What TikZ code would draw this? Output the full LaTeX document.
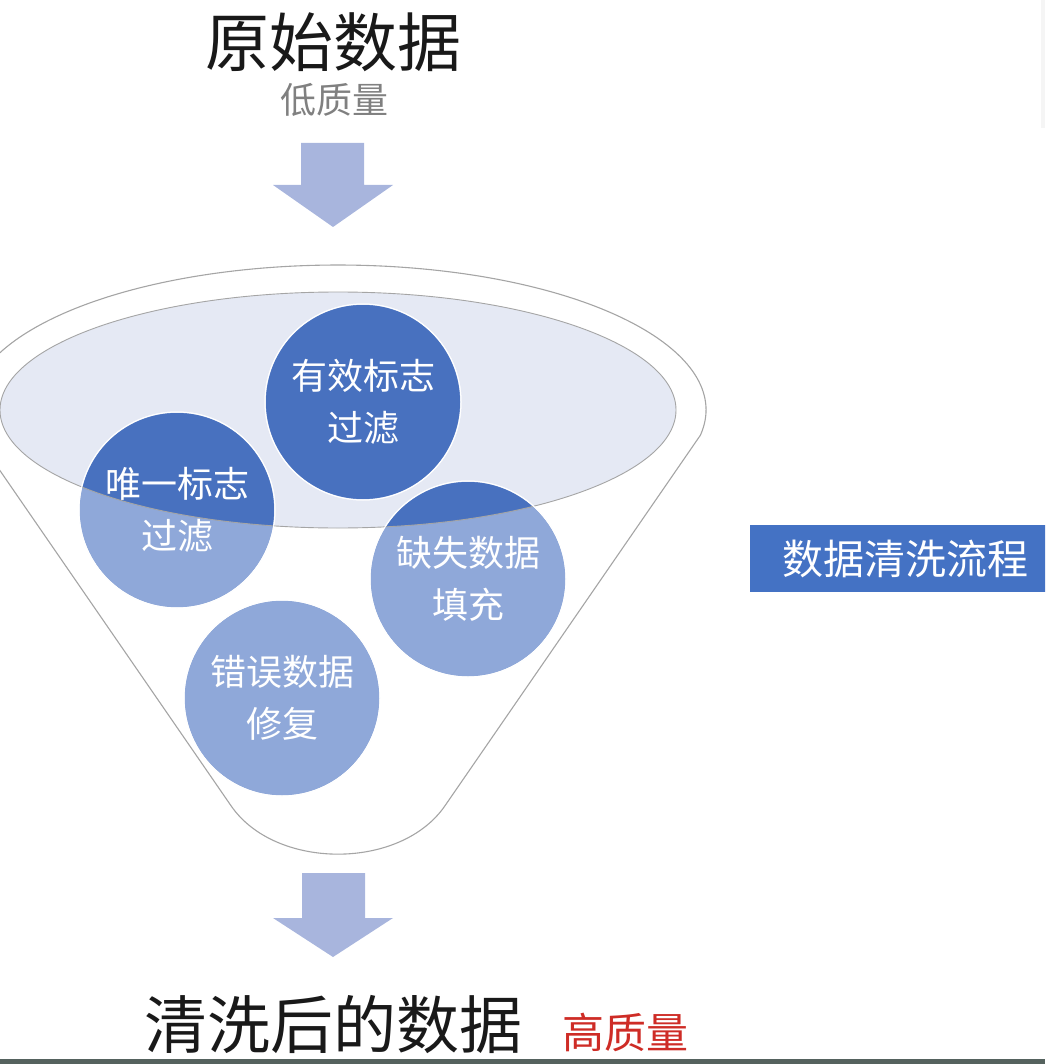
\documentclass[tikz,border=0pt]{standalone}
\usepackage{fontspec}
\setmainfont{Noto Sans CJK SC}
\newfontfamily\cjk{Noto Sans CJK SC}
\definecolor{arrowc}{RGB}{168,181,221}
\definecolor{ellc}{RGB}{229,233,244}
\definecolor{rimc}{RGB}{165,165,165}
\definecolor{lightb}{RGB}{143,168,217}
\definecolor{darkb}{RGB}{72,113,191}
\definecolor{boxb}{RGB}{68,114,196}
\definecolor{greyt}{RGB}{128,128,128}
\definecolor{redt}{RGB}{206,44,38}
\definecolor{barc}{RGB}{85,98,94}
\tikzset{
  bubble/.style={circle,fill=lightb,draw=white,line width=1pt,minimum size=196pt,inner sep=0pt},
  btext/.style={text=white,align=center,font=\cjk\fontsize{36}{52}\selectfont,inner sep=0pt},
  blockarrow/.style={fill=arrowc,draw=none},
  rim/.style={draw=rimc,line width=1.1pt},
}
\begin{document}
\begin{tikzpicture}[x=1pt,y=1pt]
\useasboundingbox (0,0) rectangle (1045,-1064);
\clip (0,0) rectangle (1045,-1064);
% titles
\node[font=\cjk\fontsize{64}{64}\selectfont,text=black!90,inner sep=0pt] (raw) at (333,-42) {原始数据};
\node[font=\cjk\fontsize{36}{36}\selectfont,text=greyt,inner sep=0pt] (low) at (334,-100) {低质量};
% top arrow
\fill[blockarrow] (301,-143) -- (364,-143) -- (364,-185) -- (393,-185) -- (333,-227) -- (273,-185) -- (301,-185) -- cycle;
% funnel outline
\draw[rim,fill=white] (700.4,-435.2) arc[start angle=-10,end angle=190,x radius=368pt,y radius=145pt]
   -- (231.2,-806) .. controls (275.5,-870.2) and (400.5,-870.2) .. (444.8,-806) -- cycle;
% inner ellipse
\fill[ellc] (338,-410) ellipse [x radius=338pt,y radius=118pt];
% circles (light)
\node[bubble] (c1) at (363,-402) {};
\node[bubble] (c2) at (177,-510) {};
\node[bubble] (c3) at (468,-579) {};
\node[bubble] (c4) at (282,-698) {};
% darker parts inside ellipse
\begin{scope}
\clip (338,-410) ellipse [x radius=338pt,y radius=118pt];
\foreach \c in {c1,c2,c3,c4}{\fill[darkb] (\c.center) circle[radius=97pt];}
\end{scope}
\draw[draw=rimc,line width=0.9pt] (338,-410) ellipse [x radius=338pt,y radius=118pt];
\foreach \c in {c1,c2,c3,c4}{\draw[white,line width=1pt] (\c.center) circle[radius=98pt];}
% texts in circles
\node[btext] (t1) at (c1) {有效标志\\过滤};
\node[btext] (t2) at (c2) {唯一标志\\过滤};
\node[btext] (t3) at (c3) {缺失数据\\填充};
\node[btext] (t4) at (c4) {错误数据\\修复};
% bottom arrow
\fill[blockarrow] (302,-873) -- (365,-873) -- (365,-918) -- (393,-918) -- (333,-957) -- (273,-918) -- (302,-918) -- cycle;
% bottom titles
\node[font=\cjk\fontsize{63}{63}\selectfont,text=black!90,inner sep=0pt] (clean) at (333,-1025) {清洗后的数据};
\node[font=\cjk\fontsize{42}{42}\selectfont,text=redt,inner sep=0pt] (high) at (625,-1032) {高质量};
% side box
\node[fill=boxb,minimum width=310pt,minimum height=67pt,inner sep=0pt,text=white,font=\cjk\fontsize{41}{41}\selectfont] (flow) at (905,-558.5) {数据清洗流程};
% frame artifacts
\fill[barc] (0,-1059) rectangle (1045,-1064);
\fill[black!4] (1041,0) rectangle (1045,-128);
\end{tikzpicture}
\end{document}
